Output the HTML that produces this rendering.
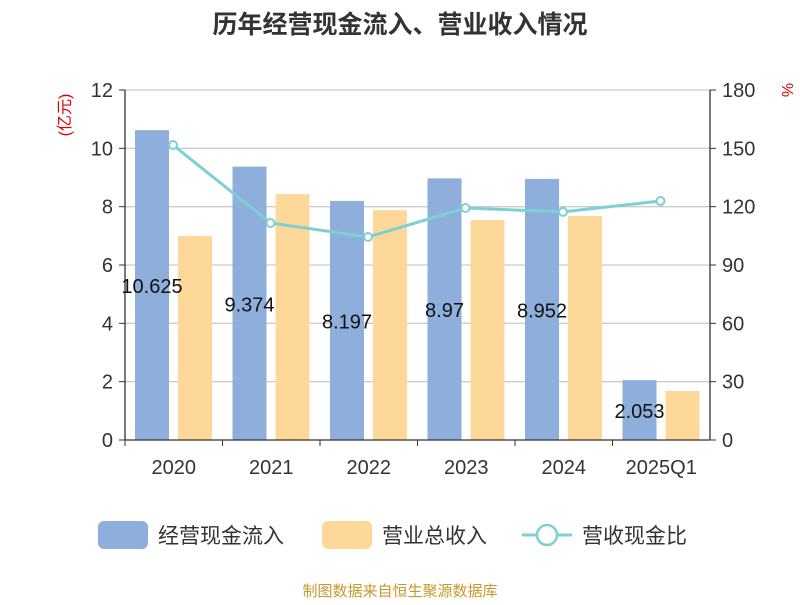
<!DOCTYPE html>
<html><head><meta charset="utf-8"><style>
body{margin:0;background:#fff;}
svg text{font-family:"Liberation Sans","Noto Sans CJK SC",sans-serif;}
</style></head><body>
<svg id="chart" width="800" height="600" xmlns="http://www.w3.org/2000/svg">
<text x="400" y="33" text-anchor="middle" font-size="25" font-weight="bold" fill="#333">历年经营现金流入、营业收入情况</text>
<text transform="translate(70,115) rotate(-90)" text-anchor="middle" font-size="16" fill="#e00000">(亿元)</text>
<text transform="translate(782,90) rotate(90)" text-anchor="middle" font-size="16" fill="#e00000">%</text>
<g id="grid"></g><g id="bars"></g><g id="axes"></g><g id="line"></g><g id="labels"></g>
<g>
<rect x="98" y="521" width="50" height="28" rx="6" fill="#8eaedb"/>
<text x="158" y="543" font-size="21" fill="#333">经营现金流入</text>
<rect x="322" y="521" width="50" height="28" rx="6" fill="#fed899"/>
<text x="382" y="543" font-size="21" fill="#333">营业总收入</text>
<line x1="522" y1="535" x2="572" y2="535" stroke="#7dd0d3" stroke-width="3"/>
<circle cx="547" cy="535" r="10" fill="#fff" stroke="#7dd0d3" stroke-width="2.5"/>
<text x="582" y="543" font-size="21" fill="#333">营收现金比</text>
</g>
<text x="400" y="596" text-anchor="middle" font-size="15" fill="#c8982c">制图数据来自恒生聚源数据库</text>
</svg>
<script>
const categories=["2020","2021","2022","2023","2024","2025Q1"];
const cashInflow=[10.625,9.374,8.197,8.97,8.952,2.053];
const revenue=[6.99,8.43,7.88,7.54,7.68,1.68];
const ratio=[151.7,111.6,104.4,119.3,117.3,122.9];
const leftTicks=[0,2,4,6,8,10,12];
const rightTicks=[0,30,60,90,120,150,180];
const NS="http://www.w3.org/2000/svg";
const X0=125,X1=710,Y0=440,Y1=90;
const band=(X1-X0)/categories.length;
const yL=v=>Y0-(v/12)*(Y0-Y1);
const yR=v=>Y0-(v/180)*(Y0-Y1);
function mk(p,tag,a){const e=document.createElementNS(NS,tag);for(const k in a)e.setAttribute(k,a[k]);document.getElementById(p).appendChild(e);return e;}
leftTicks.forEach((t,i)=>{
 const y=yL(t);
 if(t>0){const g=mk('grid','line',{x1:X0,x2:X1,y1:y,y2:y,stroke:'#ccc','stroke-width':1.3});
 
 }
 const tk=mk('axes','line',{x1:X0-6,x2:X0,y1:y,y2:y,stroke:'#333'});
 
 
 const l=mk('axes','text',{x:X0-12,y:y+7,'text-anchor':'end','font-size':20,fill:'#333'});l.textContent=t;
 
 
});
rightTicks.forEach(t=>{
 const y=yR(t);
 const tk=mk('axes','line',{x1:X1,x2:X1+6,y1:y,y2:y,stroke:'#333'});
 
 
 const l=mk('axes','text',{x:X1+12,y:y+7,'font-size':20,fill:'#333'});l.textContent=t;
 
 
});
const la=mk('axes','line',{x1:X0,x2:X0,y1:Y1,y2:Y0,stroke:'#333','stroke-width':1.3});


const ra=mk('axes','line',{x1:X1,x2:X1,y1:Y1,y2:Y0,stroke:'#333','stroke-width':1.3});


const xa=mk('axes','line',{x1:X0,x2:X1,y1:Y0,y2:Y0,stroke:'#333','stroke-width':1.3});


const pts=[];
categories.forEach((c,i)=>{
 const bx=X0+i*band;
 const xt=mk('axes','line',{x1:bx,x2:bx,y1:Y0,y2:Y0+6,stroke:'#333'});
 
 
 const xl=mk('axes','text',{x:bx+band/2,y:474,'text-anchor':'middle','font-size':20,fill:'#333'});xl.textContent=c;
 
 
 const b1=mk('bars','rect',{x:bx+10,y:yL(cashInflow[i]),width:34,height:Y0-yL(cashInflow[i]),fill:'#8eaedb'});
 
 
 const b2=mk('bars','rect',{x:bx+53,y:yL(revenue[i]),width:34,height:Y0-yL(revenue[i]),fill:'#fed899'});
 
 
 const vl=mk('labels','text',{x:bx+27,y:(yL(cashInflow[i])+Y0)/2+8,'text-anchor':'middle','font-size':20,fill:'#111'});vl.textContent=cashInflow[i];
 
 
 pts.push([bx+48,yR(ratio[i])]);
});
const pl=mk('line','polyline',{points:pts.map(p=>p.join(',')).join(' '),fill:'none',stroke:'#7dd0d3','stroke-width':3});


pts.forEach(p=>{
 const c=mk('line','circle',{cx:p[0],cy:p[1],r:4,fill:'#fff',stroke:'#7dd0d3','stroke-width':2});
 
 
});
</script>
</body></html>
